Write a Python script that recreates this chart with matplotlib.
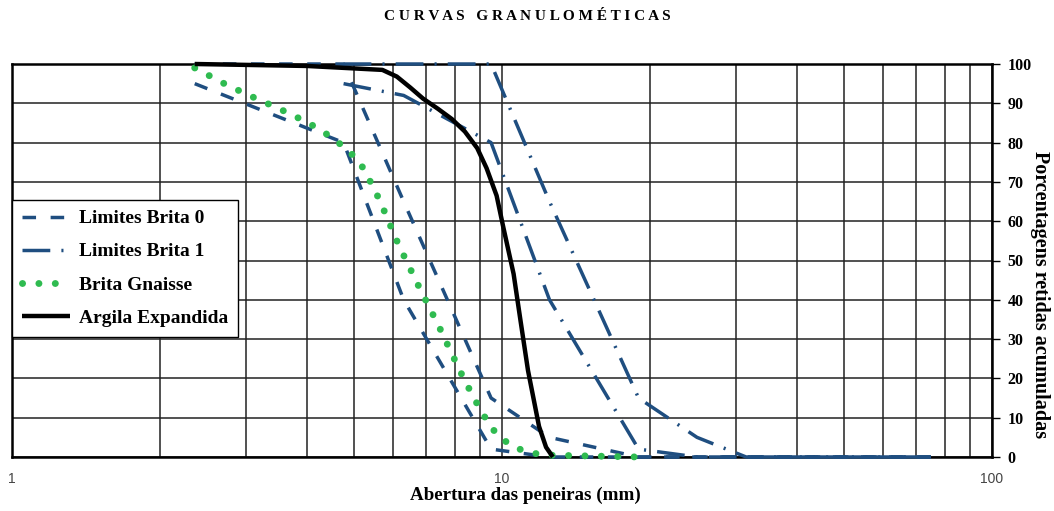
import matplotlib
matplotlib.use('agg')
import matplotlib.pyplot as plt
from matplotlib.ticker import FixedLocator, LogLocator, NullFormatter

# abertura das peneiras (mm) e porcentagens retidas acumuladas
brita0_inf_x = [2.36, 4.75, 6.3, 9.5, 12.5, 75]
brita0_inf_y = [95, 80, 40, 2, 0, 0]
brita0_sup_x = [2.36, 4.75, 6.3, 9.5, 12.5, 19, 75]
brita0_sup_y = [100, 100, 65, 15, 5, 0, 0]

brita1_inf_x = [4.75, 6.3, 9.5, 12.5, 19, 25, 75]
brita1_inf_y = [95, 92, 80, 40, 2, 0, 0]
brita1_sup_x = [4.75, 6.3, 9.5, 12.5, 19, 25, 31.5, 75]
brita1_sup_y = [100, 100, 100, 65, 15, 5, 0, 0]

gnaisse_x = [2.36, 2.74, 3.1, 3.54, 4.03, 4.54, 5.08, 5.27, 5.63, 6.15, 6.77,
             7.45, 8.2, 8.77, 9.44, 9.9, 10.5, 11.2, 12.2, 19]
gnaisse_y = [99, 94.7, 91.6, 88.4, 85, 81, 75.7, 72.4, 65.3, 54, 43.3,
             33, 22, 14.9, 8, 5, 2.8, 1.3, 0.5, 0]

argila_x = [2.36, 4.0, 5.7, 6.1, 6.5, 6.9, 7.4, 7.9, 8.4, 8.9, 9.3,
            9.75, 10.06, 10.56, 10.9, 11.3, 11.9, 12.3, 12.7]
argila_y = [100, 99.5, 98.5, 96.8, 94, 91.2, 88.6, 86, 82.8, 78.6, 73.5,
            66.5, 58.5, 46.6, 35, 22, 7.8, 2.5, 0]

y_ticks = list(range(0, 101, 10))
x_major = [1, 10, 100]

AZUL = '#1f4e80'
VERDE = '#2fbb50'
SERIF = 'Liberation Serif'

fig = plt.figure(figsize=(10.54, 5.11), dpi=100)
ax = fig.add_axes([12 / 1054, 1 - 457 / 511, 980 / 1054, 393 / 511])

tracejado = (0, (3.9, 4.2))
traco_ponto = (0, (8, 3.2, 0.6, 3.2))

ax.plot(brita0_inf_x, brita0_inf_y, color=AZUL, lw=2.5, ls=tracejado,
        label='Limites Brita 0', zorder=3, clip_on=False)
ax.plot(brita0_sup_x, brita0_sup_y, color=AZUL, lw=2.5, ls=tracejado,
        zorder=3, clip_on=False)
ax.plot(brita1_inf_x, brita1_inf_y, color=AZUL, lw=2.5, ls=traco_ponto,
        label='Limites Brita 1', zorder=3, clip_on=False)
ax.plot(brita1_sup_x, brita1_sup_y, color=AZUL, lw=2.5, ls=traco_ponto,
        zorder=3, clip_on=False)
ax.plot(gnaisse_x, gnaisse_y, color=VERDE, lw=5, ls=(0, (0.01, 2.35)),
        dash_capstyle='round', label='Brita Gnaisse', zorder=3, clip_on=False)
ax.plot(argila_x, argila_y, color='black', lw=3.2, label='Argila Expandida',
        zorder=4, clip_on=False, solid_capstyle='butt', solid_joinstyle='round')

ax.set_xscale('log')
ax.set_xlim(1, 100)
ax.set_ylim(0, 100)

ax.xaxis.set_major_locator(FixedLocator(x_major))
ax.xaxis.set_minor_locator(LogLocator(base=10, subs=range(2, 10)))
ax.xaxis.set_minor_formatter(NullFormatter())
ax.set_xticklabels([str(v) for v in x_major])
ax.tick_params(axis='x', which='both', length=0, pad=11, labelsize=10,
               labelcolor='#444444')
for t in ax.get_xticklabels():
    t.set_family('Liberation Sans')

ax.yaxis.tick_right()
ax.yaxis.set_label_position('right')
ax.set_yticks(y_ticks)
ax.tick_params(axis='y', which='both', direction='out', length=6, width=1,
               pad=5, labelsize=11.5)
for t in ax.get_yticklabels():
    t.set_family(SERIF)
    t.set_fontweight('bold')

ax.grid(True, which='both', axis='x', color='#222222', lw=1.1)
ax.grid(True, which='major', axis='y', color='#222222', lw=1.1)
ax.set_axisbelow(True)
for s in ax.spines.values():
    s.set_linewidth(1.8)
    s.set_color('black')

ax.set_xlabel('Abertura das peneiras (mm)', family=SERIF, fontweight='bold',
              fontsize=13.7, va='center')
ax.xaxis.set_label_coords((525 - 12) / 980, (457 - 495) / 393)
ax.set_ylabel('Porcentagens retidas acumuladas', family=SERIF, fontweight='bold',
              fontsize=14.5, rotation=270, va='center')
ax.yaxis.set_label_coords((1040 - 12) / 980, (457 - 295) / 393)

leg = ax.legend(loc='upper left', bbox_to_anchor=(0, 0.654), borderaxespad=0,
                fancybox=False, framealpha=1, edgecolor='black', handlelength=2.5,
                handletextpad=0.45, labelspacing=0.8, borderpad=0.5,
                prop={'family': SERIF, 'weight': 'bold', 'size': 14})
leg.get_frame().set_linewidth(1)
leg.set_zorder(5)

fig.text(0.5, 0.968, 'C U R V A S   G R A N U L O M É T I C A S', ha='center',
         va='center', family=SERIF, fontweight='bold', fontsize=11)

fig.savefig('out.png', dpi=100)
